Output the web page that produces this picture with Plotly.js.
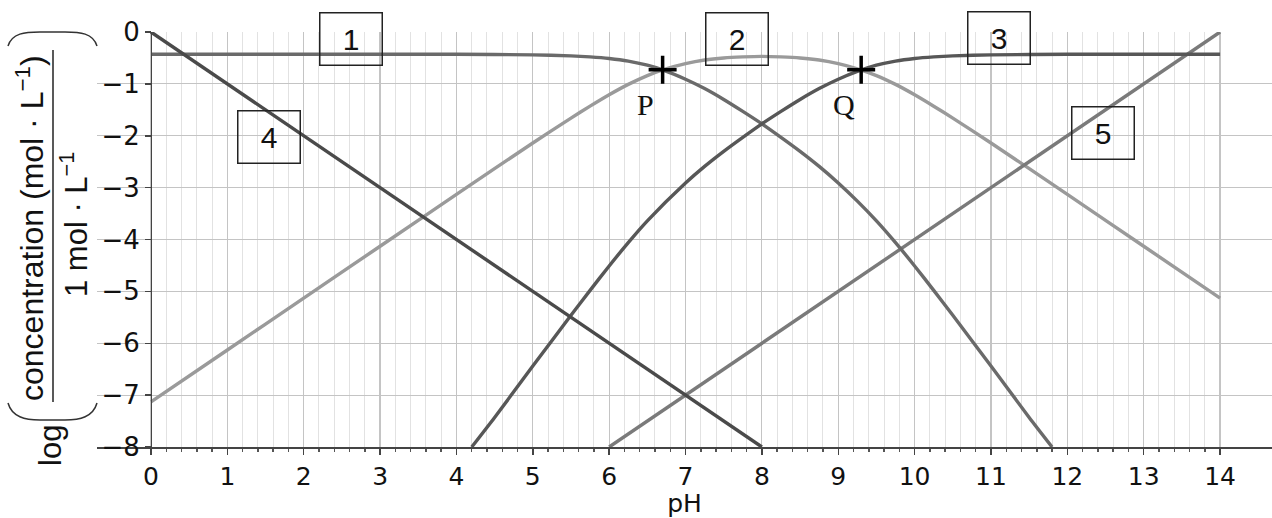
<!DOCTYPE html>
<html>
<head>
<meta charset="utf-8">
<script src="https://cdn.plot.ly/plotly-3.0.1.min.js"></script>
<style>
  html, body { margin: 0; padding: 0; background: #fff; }
  #chart { width: 1272px; height: 518px; }
</style>
</head>
<body>
<div id="chart"></div>
<script>
// curve 1 (H2A)
const PH_1 = [0, 1, 2, 3, 4, 5, 5.5, 5.75, 6, 6.25, 6.5, 6.7, 7, 7.25, 7.5, 7.75, 8, 8.25, 8.5, 8.75, 9, 9.25, 9.5, 9.75, 10, 10.25, 10.5, 11, 11.5, 11.8];
const LOG_1 = [-0.43, -0.43, -0.43, -0.43, -0.43, -0.44, -0.46, -0.48, -0.51, -0.56, -0.64, -0.73, -0.91, -1.09, -1.30, -1.53, -1.77, -2.03, -2.30, -2.59, -2.91, -3.26, -3.64, -4.06, -4.51, -4.98, -5.46, -6.44, -7.43, -8.0];

// curve 2 (HA-)
const PH_2 = [0, 1, 2, 3, 4, 5, 5.5, 5.75, 6, 6.25, 6.5, 6.7, 7, 7.25, 7.5, 7.75, 8, 8.25, 8.5, 8.75, 9, 9.25, 9.5, 9.75, 10, 10.25, 10.5, 11, 12, 13, 14];
const LOG_2 = [-7.13, -6.13, -5.13, -4.13, -3.13, -2.14, -1.66, -1.43, -1.21, -1.01, -0.84, -0.73, -0.61, -0.54, -0.50, -0.48, -0.47, -0.48, -0.50, -0.54, -0.61, -0.71, -0.84, -1.01, -1.21, -1.43, -1.66, -2.14, -3.13, -4.13, -5.13];

// curve 3 (A2-)
const PH_3 = [4.2, 4.5, 5, 5.5, 5.75, 6, 6.25, 6.5, 7, 7.25, 7.5, 7.75, 8, 8.25, 8.5, 8.75, 9, 9.25, 9.5, 9.75, 10, 10.25, 10.5, 11, 12, 13, 14];
const LOG_3 = [-8.0, -7.43, -6.44, -5.46, -4.98, -4.51, -4.06, -3.64, -2.91, -2.59, -2.30, -2.03, -1.77, -1.53, -1.30, -1.09, -0.91, -0.76, -0.64, -0.56, -0.51, -0.48, -0.46, -0.44, -0.43, -0.43, -0.43];

// line 4 (H3O+) and line 5 (OH-)
const PH_4 = [0, 8];
const LOG_4 = [0, -8];
const PH_5 = [6, 14];
const LOG_5 = [-8, 0];

// points P and Q
const PQ_PH = [6.7, 9.3];
const PQ_LOG = [-0.73, -0.73];
const PQ_NAMES = ["P", "Q"];

// boxed curve numbers
const BOX_TEXT = ["1", "2", "3", "4", "5"];
const BOX_PH = [2.62, 7.68, 11.11, 1.55, 12.47];
const BOX_LOG = [-0.14, -0.14, -0.12, -2.02, -1.95];

const X_TICKS = [0, 1, 2, 3, 4, 5, 6, 7, 8, 9, 10, 11, 12, 13, 14];
const Y_TICKS = [0, -1, -2, -3, -4, -5, -6, -7, -8];

const X_RANGE = [-0.707, 14.68];
const Y_RANGE = [-8, 0];

// plot area in pixels
const L = 97, R = 0, T = 32, B = 71, W = 1272, H = 518;
const px2x = p => (p - L) / (W - L - R);
const py2y = p => (H - B - p) / (H - T - B);

const minorVals = [];
for (let i = 0; i <= 70; i++) { if (i % 5 !== 0) minorVals.push(i * 0.2); }

function curve(x, y, color, w) {
  return { x: x, y: y, type: "scatter", mode: "lines",
    line: { color: color, width: w || 3.4, shape: "spline", smoothing: 0.6 },
    hoverinfo: "skip", cliponaxis: false };
}

const data = [
  curve(PH_2, LOG_2, "#9a9a9a"),
  curve(PH_5, LOG_5, "#7a7a7a"),
  curve(PH_1, LOG_1, "#6a6a6a"),
  curve(PH_3, LOG_3, "#575757"),
  curve(PH_4, LOG_4, "#4a4a4a"),
  { x: PQ_PH, y: PQ_LOG, type: "scatter", mode: "markers",
    marker: { symbol: "cross-thin", size: 20, line: { color: "#000", width: 3.5 } },
    cliponaxis: false, hoverinfo: "skip" }
];

const annotations = [];
BOX_TEXT.forEach((t, i) => {
  annotations.push({ x: BOX_PH[i], y: BOX_LOG[i], xref: "x", yref: "y", text: t,
    showarrow: false, width: 61, height: 51, borderpad: 0, bordercolor: "#222", borderwidth: 1.5,
    font: { family: "Liberation Sans, Arial", size: 30, color: "#111" } });
});
PQ_NAMES.forEach((t, i) => {
  annotations.push({ x: PQ_PH[i] - 0.22, y: PQ_LOG[i] - 0.67, xref: "x", yref: "y", text: t,
    showarrow: false, font: { family: "Liberation Serif, Times New Roman", size: 30, color: "#111" } });
});
// y-axis title built as a fraction
function sideText(t, cx, cy, size) {
  annotations.push({ x: px2x(cx), y: py2y(cy), xref: "paper", yref: "paper", textangle: -90,
    xanchor: "center", yanchor: "middle", text: t, showarrow: false,
    font: { family: "Liberation Sans, Arial", size: size, color: "#111" } });
}
sideText("concentration (mol · L<sup>−1</sup>)", 30, 228, 32);
sideText("1 mol · L<sup>−1</sup>", 74, 225, 31);
sideText("log", 50, 446, 31);

const shapes = [
  { type: "line", xref: "paper", yref: "paper", x0: px2x(53), x1: px2x(53), y0: py2y(50), y1: py2y(402),
    line: { color: "#222", width: 1.5 } },
  { type: "path", xref: "paper", yref: "paper", line: { color: "#333", width: 1.5 },
    path: "M" + px2x(8) + "," + py2y(46) + " C" + px2x(12) + "," + py2y(33) + " " + px2x(25) + "," + py2y(32) + " " + px2x(40) + "," + py2y(32)
      + " L" + px2x(65) + "," + py2y(32) + " C" + px2x(80) + "," + py2y(32) + " " + px2x(93) + "," + py2y(33) + " " + px2x(97) + "," + py2y(46) },
  { type: "path", xref: "paper", yref: "paper", line: { color: "#333", width: 1.5 },
    path: "M" + px2x(8) + "," + py2y(403) + " C" + px2x(12) + "," + py2y(417) + " " + px2x(25) + "," + py2y(420) + " " + px2x(40) + "," + py2y(420)
      + " L" + px2x(65) + "," + py2y(420) + " C" + px2x(80) + "," + py2y(420) + " " + px2x(93) + "," + py2y(417) + " " + px2x(97) + "," + py2y(403) }
];

const layout = {
  width: W, height: H,
  margin: { l: L, r: R, t: T, b: B },
  paper_bgcolor: "#fff", plot_bgcolor: "#fff",
  showlegend: false,
  font: { family: "DejaVu Sans", color: "#111" },
  xaxis: {
    range: X_RANGE, tickmode: "array", tickvals: X_TICKS,
    showgrid: true, gridcolor: "#c4c4c4", gridwidth: 1.2, zeroline: false,
    showline: true, linecolor: "#444", linewidth: 1.5,
    ticks: "outside", ticklen: 6, tickcolor: "#444", tickwidth: 1.5,
    tickfont: { family: "DejaVu Sans", size: 25, color: "#111" },
    minor: { tickmode: "array", tickvals: minorVals, showgrid: true, gridcolor: "#e2e2e2", gridwidth: 1,
      ticks: "outside", ticklen: 3, tickcolor: "#555" },
    title: { text: "pH", standoff: 4, font: { family: "DejaVu Sans", size: 25, color: "#111" } }
  },
  yaxis: {
    range: Y_RANGE, tickmode: "array", tickvals: Y_TICKS,
    anchor: "free", position: (0 - X_RANGE[0]) / (X_RANGE[1] - X_RANGE[0]),
    showgrid: true, gridcolor: "#c4c4c4", gridwidth: 1.2, zeroline: false,
    showline: true, linecolor: "#444", linewidth: 1.5,
    ticks: "outside", ticklen: 6, tickcolor: "#444", tickwidth: 1.5,
    tickfont: { family: "DejaVu Sans", size: 26, color: "#111" }
  },
  annotations: annotations,
  shapes: shapes
};

Plotly.newPlot("chart", data, layout, { staticPlot: true });
</script>
</body>
</html>
